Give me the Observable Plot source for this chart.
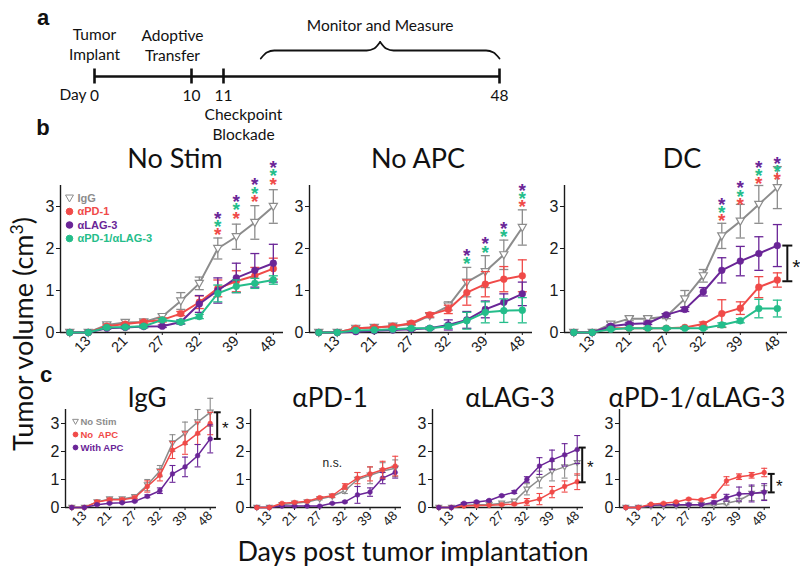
<!DOCTYPE html>
<html><head><meta charset="utf-8">
<script src="https://cdn.jsdelivr.net/npm/d3@7"></script>
<script src="https://cdn.jsdelivr.net/npm/@observablehq/plot@0.6"></script>
<style>
body{margin:0;background:#fff;}
#fig{position:relative;width:800px;height:569px;overflow:hidden;background:#fff;}
.lbl{position:absolute;font-family:Lato,sans-serif;color:#111;white-space:nowrap;line-height:1;transform:translate(-50%,-50%);}
.let{position:absolute;font-family:"Liberation Sans",Arial,sans-serif;font-weight:bold;font-size:22px;color:#111;line-height:1;transform:translate(-50%,-50%);}
</style></head><body><div id="fig"></div>
<script>
// ---------- data ----------
const days = [11, 13, 17, 21, 24, 27, 29, 32, 35, 39, 42, 48];
const tickDays = [13, 21, 27, 32, 39, 48];
const yTicks = [0, 1, 2, 3];

// panel a timeline
const eventDays = [0, 10, 11, 48];
const monitorFrom = 16, monitorTo = 48;

// panel b: No Stim
const nsIgG = [0,0,0.18,0.24,0.25,0.38,0.75,1.17,2.0,2.28,2.62,3.0];
const nsIgGErr = [0,0,0.04,0.06,0.05,0.05,0.2,0.15,0.25,0.3,0.4,0.4];
const nsPD1 = [0,0,0.15,0.2,0.25,0.3,0.45,0.72,1.05,1.22,1.35,1.52];
const nsPD1Err = [0,0,0.03,0.03,0.03,0.05,0.05,0.15,0.2,0.25,0.2,0.25];
const nsLAG3 = [0,0,0.1,0.12,0.14,0.15,0.25,0.68,1.0,1.3,1.48,1.65];
const nsLAG3Err = [0,0,0.02,0.03,0.03,0.03,0.05,0.2,0.3,0.35,0.4,0.45];
const nsCombo = [0,0,0.12,0.13,0.15,0.3,0.25,0.38,0.93,1.1,1.17,1.25];
const nsComboErr = [0,0,0.02,0.02,0.03,0.03,0.04,0.05,0.2,0.15,0.12,0.1];
// panel b: No APC
const naIgG = [0,0,0.1,0.12,0.15,0.2,0.4,0.63,1.2,1.45,1.85,2.5];
const naIgGErr = [0,0,0.02,0.02,0.03,0.03,0.05,0.1,0.35,0.38,0.35,0.42];
const naPD1 = [0,0,0.1,0.12,0.15,0.22,0.42,0.55,0.95,1.15,1.27,1.35];
const naPD1Err = [0,0,0.02,0.02,0.03,0.03,0.05,0.1,0.3,0.3,0.3,0.38];
const naLAG3 = [0,0,0.02,0.04,0.06,0.08,0.1,0.18,0.3,0.55,0.72,0.92];
const naLAG3Err = [0,0,0.01,0.01,0.01,0.02,0.03,0.12,0.2,0.2,0.2,0.28];
const naCombo = [0,0,0.05,0.06,0.08,0.1,0.1,0.15,0.28,0.48,0.52,0.53];
const naComboErr = [0,0,0.01,0.01,0.01,0.02,0.02,0.05,0.2,0.25,0.28,0.3];
// panel b: DC
const dcIgG = [0,0,0.2,0.33,0.33,0.38,0.8,1.35,2.3,2.65,3.05,3.45];
const dcIgGErr = [0,0,0.05,0.05,0.05,0.05,0.2,0.15,0.3,0.4,0.45,0.5];
const dcPD1 = [0,0,0.1,0.1,0.1,0.1,0.12,0.2,0.45,0.58,1.08,1.25];
const dcPD1Err = [0,0,0.02,0.02,0.02,0.02,0.02,0.05,0.33,0.15,0.25,0.17];
const dcLAG3 = [0,0,0.15,0.2,0.22,0.42,0.55,0.97,1.48,1.7,1.88,2.07];
const dcLAG3Err = [0,0,0.03,0.03,0.03,0.03,0.05,0.1,0.3,0.35,0.4,0.5];
const dcCombo = [0,0,0.08,0.1,0.1,0.1,0.1,0.1,0.18,0.28,0.57,0.57];
const dcComboErr = [0,0,0.02,0.02,0.02,0.02,0.02,0.02,0.05,0.05,0.22,0.2];

// panel c: IgG
const cIgGNoStim = [0,0,0.2,0.3,0.3,0.38,0.8,1.3,2.3,2.65,3.05,3.4];
const cIgGNoStimErr = [0,0,0.05,0.05,0.05,0.05,0.2,0.2,0.3,0.4,0.45,0.5];
const cIgGNoAPC = [0,0,0.2,0.28,0.28,0.35,0.75,1.15,2.05,2.3,2.65,3.0];
const cIgGNoAPCErr = [0,0,0.05,0.05,0.05,0.05,0.2,0.2,0.3,0.4,0.4,0.4];
const cIgGAPC = [0,0,0.1,0.15,0.17,0.22,0.4,0.6,1.2,1.45,1.85,2.45];
const cIgGAPCErr = [0,0,0.02,0.02,0.02,0.02,0.05,0.1,0.3,0.35,0.4,0.5];
// panel c: aPD-1
const cPD1NoStim = [0,0,0.1,0.15,0.2,0.3,0.4,0.6,1.0,1.15,1.3,1.4];
const cPD1NoStimErr = [0,0,0.02,0.02,0.03,0.03,0.05,0.1,0.25,0.3,0.3,0.3];
const cPD1NoAPC = [0,0,0.15,0.18,0.22,0.35,0.42,0.75,1.05,1.2,1.35,1.48];
const cPD1NoAPCErr = [0,0,0.02,0.02,0.03,0.03,0.05,0.1,0.2,0.25,0.3,0.35];
const cPD1APC = [0,0,0.05,0.05,0.05,0.05,0.15,0.2,0.45,0.55,1.05,1.25];
const cPD1APCErr = [0,0,0.01,0.01,0.01,0.01,0.02,0.03,0.3,0.15,0.2,0.2];
// panel c: aLAG-3
const cLAGNoStim = [0,0,0.08,0.1,0.1,0.15,0.22,0.65,1.0,1.3,1.45,1.6];
const cLAGNoStimErr = [0,0,0.02,0.02,0.02,0.03,0.05,0.2,0.3,0.35,0.4,0.45];
const cLAGNoAPC = [0,0,0.05,0.07,0.08,0.1,0.12,0.2,0.3,0.55,0.75,0.92];
const cLAGNoAPCErr = [0,0,0.01,0.01,0.01,0.02,0.03,0.12,0.2,0.2,0.2,0.28];
const cLAGAPC = [0,0,0.15,0.2,0.25,0.42,0.55,1.0,1.48,1.7,1.88,2.07];
const cLAGAPCErr = [0,0,0.03,0.03,0.03,0.03,0.05,0.1,0.3,0.35,0.4,0.5];
// panel c: aPD-1/aLAG-3
const cComboNoStim = [0,0,0.05,0.05,0.06,0.08,0.1,0.1,0.15,0.25,0.5,0.53];
const cComboNoStimErr = [0,0,0.01,0.01,0.01,0.01,0.02,0.02,0.05,0.05,0.25,0.25];
const cComboNoAPC = [0,0,0.12,0.15,0.2,0.3,0.27,0.4,0.95,1.1,1.15,1.25];
const cComboNoAPCErr = [0,0,0.02,0.02,0.02,0.03,0.03,0.05,0.15,0.1,0.1,0.15];
const cComboAPC = [0,0,0.08,0.1,0.1,0.1,0.1,0.18,0.35,0.48,0.5,0.55];
const cComboAPCErr = [0,0,0.02,0.02,0.02,0.02,0.02,0.05,0.12,0.25,0.3,0.3];

// significance stars: [day, value of the lowest star, series keys bottom to top]
const nsStars = [[35,2.41,["αPD-1","αPD-1/αLAG-3","αLAG-3"]],[39,2.81,["αPD-1","αPD-1/αLAG-3","αLAG-3"]],[42,3.21,["αPD-1","αPD-1/αLAG-3","αLAG-3"]],[48,3.62,["αPD-1","αPD-1/αLAG-3","αLAG-3"]]];
const naStars = [[35,1.72,["αPD-1/αLAG-3","αLAG-3"]],[39,2.0,["αPD-1/αLAG-3","αLAG-3"]],[42,2.37,["αPD-1/αLAG-3","αLAG-3"]],[48,3.08,["αPD-1","αPD-1/αLAG-3","αLAG-3"]]];
const dcStars = [[35,2.75,["αPD-1","αPD-1/αLAG-3","αLAG-3"]],[39,3.14,["αPD-1","αPD-1/αLAG-3","αLAG-3"]],[42,3.63,["αPD-1","αPD-1/αLAG-3","αLAG-3"]],[48,3.73,["αPD-1","αPD-1/αLAG-3","αLAG-3"]]];
const dcBracket = [1.22, 2.07];
const cIgGBracket = [2.45, 3.4];
const cLAGBracket = [0.9, 2.14];
const cComboBracket = [0.54, 1.2];
const nsNote = {text: "n.s.", day: 29, value: 1.6};

// ---------- styles ----------
const colors = {"IgG":"#8c8c8c","αPD-1":"#f04a48","αLAG-3":"#6a2597","αPD-1/αLAG-3":"#24bd8a",
  "No Stim":"#8c8c8c","No  APC":"#f04a48","With APC":"#6a2597"};
const AX = "#1a1a1a";
const capSym = {draw(ctx, size){ const w = Math.sqrt(size/Math.PI); ctx.moveTo(-w,0); ctx.lineTo(w,0); }};
const triSym = {draw(ctx, size){ const r = Math.sqrt(size/Math.PI)*1.2; ctx.moveTo(-r,-r*0.75); ctx.lineTo(r,-r*0.75); ctx.lineTo(0,r); ctx.closePath(); }};
const fig = document.getElementById("fig");
const tickIdx = tickDays.map(d => days.indexOf(d));
const lastIdx = days.length - 1;

function ser(key, mean, err, tri){ return {key, mean, err, tri: !!tri, color: colors[key]}; }

function makePanel(cfg){
  const {left, top, fw, fh, series, xMax, small} = cfg;
  const ML = 40, MR = 45, MT = 45, MB = 40, yTop = 3.5, xLo = -0.5;
  const lw = small ? 1.5 : 2, dotR = small ? 2.4 : 3.4, capR = small ? 3 : 4.5, ew = small ? 1.1 : 1.3;
  const marks = [
    Plot.ruleY([0], {stroke: AX, strokeWidth: 1.4}),
    Plot.ruleX([xLo], {y1: 0, y2: yTop, stroke: AX, strokeWidth: 1.4}),
    Plot.axisY({ticks: yTicks, tickFormat: d => String(d), tickSize: 4, tickPadding: 2, fontSize: 16, stroke: AX, label: null}),
    Plot.axisX({ticks: tickIdx, tickFormat: i => String(days[i]), tickRotate: -45, tickSize: 3, tickPadding: 3, fontSize: small ? 13 : 14.5, stroke: AX, label: null})
  ];
  for (const s of series){
    const rows = s.mean.map((v, i) => ({i, v, e: s.err[i]}));
    const er = rows.filter(r => r.e > 0);
    marks.push(Plot.ruleX(er, {x: "i", y1: r => r.v - r.e, y2: r => r.v + r.e, stroke: s.color, strokeWidth: ew}));
    marks.push(Plot.dot(er, {x: "i", y: r => r.v + r.e, symbol: capSym, r: capR, fill: "none", stroke: s.color, strokeWidth: ew}));
    marks.push(Plot.dot(er, {x: "i", y: r => r.v - r.e, symbol: capSym, r: capR, fill: "none", stroke: s.color, strokeWidth: ew}));
    marks.push(Plot.line(rows, {x: "i", y: "v", stroke: s.color, strokeWidth: lw}));
    marks.push(Plot.dot(rows, {x: "i", y: "v", symbol: s.tri ? triSym : "circle", r: dotR, fill: s.tri ? "white" : s.color, stroke: s.color, strokeWidth: s.tri ? 1.2 : 0.5}));
  }
  if (cfg.legend){
    const L = cfg.legend;
    series.forEach((s, k) => {
      marks.push(Plot.dot([s.key], {frameAnchor: "top-left", dx: L.dx, dy: L.dy + L.step*k, symbol: s.tri ? triSym : "circle", r: L.r, fill: s.tri ? "white" : s.color, stroke: s.color, strokeWidth: 1}));
      marks.push(Plot.text([s.key], {frameAnchor: "top-left", dx: L.dx + L.gap, dy: L.dy + L.step*k, text: d => d, textAnchor: "start", lineAnchor: "middle", fill: s.color, fontWeight: "bold", fontSize: L.fs, fontFamily: "Liberation Sans"}));
    });
  }
  if (cfg.stars){
    const starRows = cfg.stars.flatMap(([day, value, keys]) => keys.map((key, level) => ({i: days.indexOf(day), y: value, level, color: colors[key]})));
    for (let level = 0; level < 3; level++){
      marks.push(Plot.text(starRows.filter(r => r.level === level), {x: "i", y: "y", text: () => "*", fill: "color", fontSize: 19, fontWeight: "bold", fontFamily: "Liberation Sans", lineAnchor: "middle", dy: 4 - 8.2*level}));
    }
  }
  if (cfg.bracket){
    const [lo, hi] = cfg.bracket, bdx = cfg.bdx;
    const b = [{i: lastIdx, lo, hi}];
    marks.push(Plot.ruleX(b, {x: "i", y1: "lo", y2: "hi", dx: bdx, stroke: "#111", strokeWidth: 2}));
    marks.push(Plot.dot([{i: lastIdx, y: lo}, {i: lastIdx, y: hi}], {x: "i", y: "y", dx: bdx, symbol: capSym, r: small ? 3.5 : 5, fill: "none", stroke: "#111", strokeWidth: 2}));
    marks.push(Plot.text(b, {x: "i", y: r => (r.lo + r.hi)/2, dx: bdx + (small ? 8 : 9), dy: small ? 3 : 4, text: () => "*", fontSize: small ? 17 : 21, fill: "#111", fontFamily: "Liberation Sans"}));
  }
  if (cfg.note){
    marks.push(Plot.text([cfg.note], {x: d => days.indexOf(d.day), y: "value", text: "text", fontSize: 12, fill: "#222", fontFamily: "Liberation Sans"}));
  }
  const el = Plot.plot({
    width: ML + fw + MR, height: MT + fh + MB,
    marginLeft: ML, marginRight: MR, marginTop: MT, marginBottom: MB,
    x: {type: "linear", domain: [xLo, xMax], label: null},
    y: {domain: [0, yTop], label: null},
    style: {background: "none", overflow: "visible", fontFamily: "Liberation Sans", color: "#1a1a1a", maxWidth: "none"},
    marks
  });
  el.style.position = "absolute";
  el.style.left = (left - ML) + "px";
  el.style.top = (top - MT) + "px";
  fig.appendChild(el);
}

// ---------- panel a ----------
(function(){
  // schematic (not to scale) timeline: event days mapped to relative positions along the line
  const schematic = d3.scaleLinear().domain(eventDays).range([0, 0.2395, 0.3185, 1]);
  const braceMid = (monitorFrom + monitorTo)/2;
  const base = 0.36, arm = 0.52, peak = 0.69, d1 = 0.8, d2 = 1.8;
  const brace = [
    {x: monitorFrom, y: base, s: "L"}, {x: monitorFrom + d1, y: arm - 0.04, s: "L"}, {x: monitorFrom + d2, y: arm, s: "L"},
    {x: braceMid - d2, y: arm, s: "L"}, {x: braceMid - d1, y: arm + 0.04, s: "L"}, {x: braceMid, y: peak, s: "L"},
    {x: braceMid, y: peak, s: "R"}, {x: braceMid + d1, y: arm + 0.04, s: "R"}, {x: braceMid + d2, y: arm, s: "R"},
    {x: monitorTo - d2, y: arm, s: "R"}, {x: monitorTo - d1, y: arm - 0.04, s: "R"}, {x: monitorTo, y: base, s: "R"}
  ];
  const fs = 15.5, font = "Lato";
  const el = Plot.plot({
    width: 560, height: 145, margin: 0,
    x: {type: "linear", transform: schematic, domain: [0, 1], range: [94, 499], axis: null},
    y: {domain: [-1, 1], range: [126, 26], axis: null},
    style: {background: "none", overflow: "visible", maxWidth: "none"},
    marks: [
      Plot.ruleY([0], {x1: eventDays[0], x2: eventDays[eventDays.length-1], stroke: "#111", strokeWidth: 2.6}),
      Plot.ruleX(eventDays, {y1: -0.15, y2: 0.15, stroke: "#111", strokeWidth: 2.6}),
      Plot.text(eventDays, {x: d => d, y: 0, dy: 20, text: d => String(d), fontSize: fs, fontFamily: font, fill: "#111"}),
      Plot.text(["Day"], {x: () => eventDays[0], y: () => 0, dx: -8, dy: 19, text: d => d, textAnchor: "end", fontSize: fs, fontFamily: font, fill: "#111"}),
      Plot.text(["Tumor\nImplant"], {x: () => 0, y: () => 0, dy: -33, text: d => d, lineHeight: 1.33, fontSize: fs, fontFamily: font, fill: "#111"}),
      Plot.text(["Adoptive\nTransfer"], {x: () => 10, y: () => 0, dx: -19, dy: -32, text: d => d, lineHeight: 1.33, fontSize: fs, fontFamily: font, fill: "#111"}),
      Plot.text(["Checkpoint\nBlockade"], {x: () => 11, y: () => 0, dx: 20, dy: 47, text: d => d, lineHeight: 1.33, fontSize: fs, fontFamily: font, fill: "#111"}),
      Plot.text(["Monitor and Measure"], {x: () => braceMid, y: () => 0, dy: -50, text: d => d, fontSize: fs, fontFamily: font, fill: "#111"}),
      Plot.line(brace, {x: "x", y: "y", z: "s", curve: "monotone-x", stroke: "#111", strokeWidth: 1.8})
    ]
  });
  el.style.position = "absolute"; el.style.left = "0px"; el.style.top = "0px";
  fig.appendChild(el);
})();

// ---------- panel b ----------
const bLegend = {dx: 9, dy: 12.5, step: 13.5, r: 3.3, gap: 8, fs: 11};
makePanel({left: 60, top: 185, fw: 223, fh: 147, xMax: 11.55,
  series: [ser("IgG", nsIgG, nsIgGErr, true), ser("αPD-1", nsPD1, nsPD1Err), ser("αLAG-3", nsLAG3, nsLAG3Err), ser("αPD-1/αLAG-3", nsCombo, nsComboErr)],
  legend: bLegend, stars: nsStars});
makePanel({left: 309, top: 185, fw: 223, fh: 147, xMax: 11.55,
  series: [ser("IgG", naIgG, naIgGErr, true), ser("αPD-1", naPD1, naPD1Err), ser("αLAG-3", naLAG3, naLAG3Err), ser("αPD-1/αLAG-3", naCombo, naComboErr)],
  stars: naStars});
makePanel({left: 564, top: 185, fw: 223, fh: 147, xMax: 11.55,
  series: [ser("IgG", dcIgG, dcIgGErr, true), ser("αPD-1", dcPD1, dcPD1Err), ser("αLAG-3", dcLAG3, dcLAG3Err), ser("αPD-1/αLAG-3", dcCombo, dcComboErr)],
  stars: dcStars, bracket: dcBracket, bdx: 10});

// ---------- panel c ----------
const cLegend = {dx: 10, dy: 12, step: 13, r: 2.4, gap: 5, fs: 9.5};
makePanel({left: 65, top: 409, fw: 151, fh: 98, xMax: 11.5, small: true,
  series: [ser("No Stim", cIgGNoStim, cIgGNoStimErr, true), ser("No  APC", cIgGNoAPC, cIgGNoAPCErr), ser("With APC", cIgGAPC, cIgGAPCErr)],
  legend: cLegend, bracket: cIgGBracket, bdx: 7});
makePanel({left: 250, top: 409, fw: 151, fh: 98, xMax: 11.5, small: true,
  series: [ser("No Stim", cPD1NoStim, cPD1NoStimErr, true), ser("With APC", cPD1APC, cPD1APCErr), ser("No  APC", cPD1NoAPC, cPD1NoAPCErr)],
  note: nsNote});
makePanel({left: 432, top: 409, fw: 151, fh: 98, xMax: 11.5, small: true,
  series: [ser("No Stim", cLAGNoStim, cLAGNoStimErr, true), ser("No  APC", cLAGNoAPC, cLAGNoAPCErr), ser("With APC", cLAGAPC, cLAGAPCErr)],
  bracket: cLAGBracket, bdx: 5});
makePanel({left: 619, top: 409, fw: 151, fh: 98, xMax: 11.5, small: true,
  series: [ser("No Stim", cComboNoStim, cComboNoStimErr, true), ser("With APC", cComboAPC, cComboAPCErr), ser("No  APC", cComboNoAPC, cComboNoAPCErr)],
  bracket: cComboBracket, bdx: 7});

// ---------- text labels ----------
function lbl(text, x, y, size, cls, rot){
  const d = document.createElement("div");
  d.className = cls || "lbl";
  d.innerHTML = text;
  d.style.left = x + "px"; d.style.top = y + "px";
  if (size) d.style.fontSize = size + "px";
  if (rot) d.style.transform = "translate(-50%,-50%) rotate(" + rot + "deg)";
  fig.appendChild(d);
}
lbl("a", 43, 18, null, "let");
lbl("b", 43, 128, null, "let");
lbl("c", 46, 375, null, "let");
lbl("No Stim", 175, 157, 27);
lbl("No APC", 418, 157, 27);
lbl("DC", 682, 157, 27);
lbl("IgG", 147, 397, 26);
lbl("αPD-1", 330, 397, 26);
lbl("αLAG-3", 510, 397, 26);
lbl("αPD-1/αLAG-3", 697, 397, 26);
lbl("Tumor volume (cm<sup style='font-size:0.65em;vertical-align:0.55em'>3</sup>)", 22, 334, 27, null, -90);
lbl("Days post tumor implantation", 413, 550, 27);
</script></body></html>
